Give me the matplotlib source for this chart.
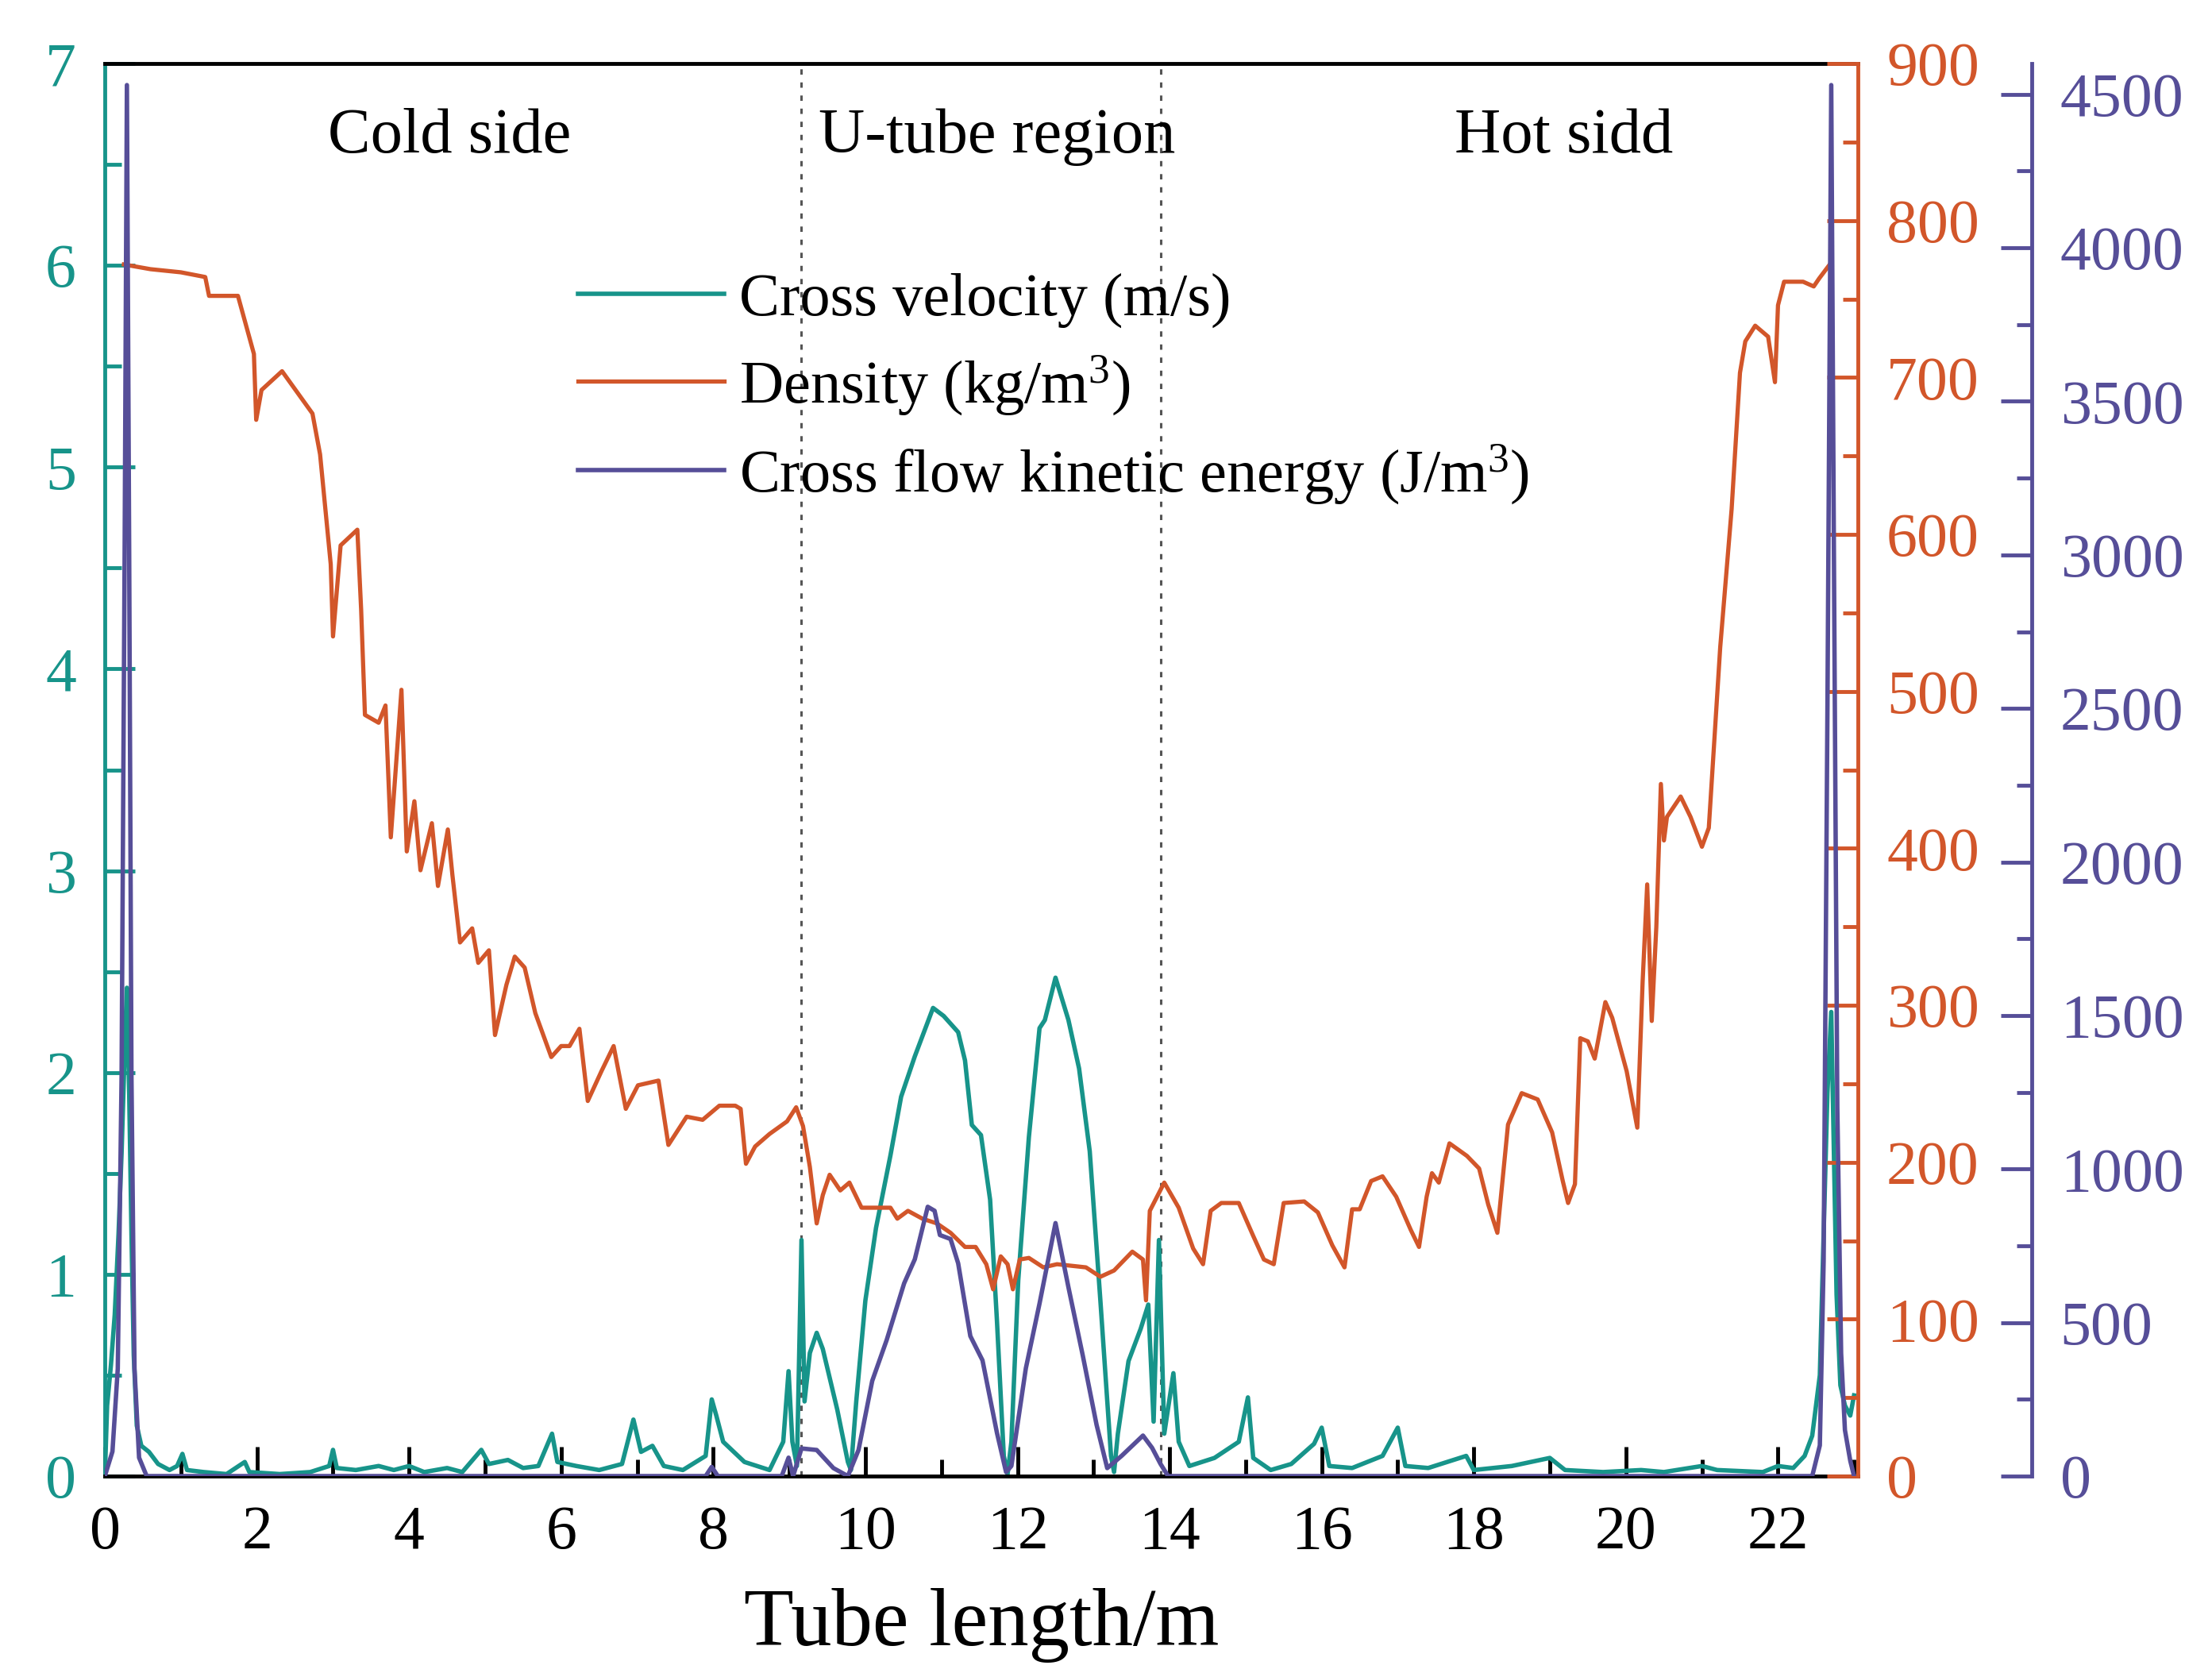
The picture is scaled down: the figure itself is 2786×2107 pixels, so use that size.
import matplotlib
matplotlib.use('Agg')
import matplotlib.pyplot as plt
from matplotlib.ticker import MultipleLocator

plt.rcParams['font.family'] = ['Liberation Serif', 'DejaVu Serif']
plt.rcParams['mathtext.fontset'] = 'custom'
plt.rcParams['mathtext.rm'] = 'Liberation Serif'
plt.rcParams['mathtext.it'] = 'Liberation Serif:italic'

# ---- data ----
vel_x = [0.0, 0.03, 0.08, 0.13, 0.18, 0.22, 0.26, 0.29, 0.32, 0.35, 0.38, 0.42, 0.48, 0.58, 0.7,
         0.85, 0.95, 1.02, 1.08, 1.3, 1.6, 1.84, 1.9, 2.3, 2.7, 2.95, 3.0, 3.05, 3.3, 3.6, 3.8,
         4.0, 4.2, 4.5, 4.7, 4.95, 5.05, 5.3, 5.5, 5.7, 5.88, 5.95, 6.2, 6.5, 6.8, 6.95, 7.05,
         7.2, 7.35, 7.6, 7.9, 7.98, 8.04, 8.13, 8.41, 8.74, 8.92, 8.99, 9.04, 9.1, 9.16, 9.2,
         9.27, 9.36, 9.44, 9.63, 9.77, 9.81, 9.88, 10.0, 10.14, 10.33, 10.47, 10.65, 10.89,
         11.03, 11.22, 11.31, 11.4, 11.52, 11.64, 11.73, 11.82, 11.87, 11.92, 12.01, 12.15,
         12.29, 12.36, 12.5, 12.67, 12.81, 12.95, 13.09, 13.23, 13.27, 13.32, 13.46, 13.62,
         13.72, 13.79, 13.86, 13.93, 14.05, 14.12, 14.26, 14.59, 14.91, 15.03, 15.1, 15.33,
         15.6, 15.9, 16.0, 16.1, 16.4, 16.8, 17.0, 17.1, 17.4, 17.9, 18.0, 18.5, 19.0, 19.2,
         19.7, 20.2, 20.5, 21.0, 21.2, 21.8, 22.0, 22.2, 22.35, 22.45, 22.55, 22.6, 22.65,
         22.7, 22.73, 22.77, 22.82, 22.88, 22.95, 23.0]
vel_y = [0.0, 0.35, 0.55, 0.8, 1.2, 1.6, 2.1, 2.42, 1.9, 1.2, 0.6, 0.25, 0.15, 0.12, 0.06,
         0.03, 0.05, 0.11, 0.03, 0.02, 0.01, 0.07, 0.02, 0.01, 0.02, 0.05, 0.13, 0.04, 0.03,
         0.05, 0.03, 0.05, 0.02, 0.04, 0.02, 0.13, 0.06, 0.08, 0.04, 0.05, 0.21, 0.07, 0.05,
         0.03, 0.06, 0.28, 0.12, 0.15, 0.05, 0.03, 0.1, 0.38, 0.3, 0.17, 0.07, 0.03, 0.17,
         0.52, 0.17, 0.05, 1.17, 0.37, 0.61, 0.71, 0.63, 0.33, 0.07, 0.03, 0.37, 0.87, 1.23,
         1.59, 1.88, 2.08, 2.32, 2.28, 2.2, 2.06, 1.74, 1.69, 1.37, 0.77, 0.1, 0.01, 0.17,
         0.97, 1.68, 2.22, 2.26, 2.47, 2.26, 2.02, 1.61, 0.87, 0.1, 0.02, 0.21, 0.57, 0.73,
         0.85, 0.27, 1.17, 0.21, 0.51, 0.17, 0.05, 0.09, 0.17, 0.39, 0.09, 0.03, 0.06, 0.16,
         0.24, 0.05, 0.04, 0.1, 0.24, 0.05, 0.04, 0.1, 0.03, 0.05, 0.09, 0.03, 0.02, 0.03,
         0.02, 0.05, 0.03, 0.02, 0.05, 0.04, 0.1, 0.2, 0.5, 1.2, 1.9, 2.3, 1.7, 0.9, 0.45,
         0.35, 0.3, 0.4]

dens_x = [0.25, 0.6, 1.0, 1.32, 1.37, 1.75, 1.96, 1.99, 2.06, 2.33, 2.73, 2.83, 2.97, 3.0, 3.1,
          3.32, 3.37, 3.42, 3.6, 3.69, 3.76, 3.9, 3.97, 4.07, 4.15, 4.3, 4.38, 4.51, 4.57,
          4.67, 4.83, 4.91, 5.05, 5.13, 5.28, 5.39, 5.52, 5.66, 5.87, 6.0, 6.11, 6.24, 6.35,
          6.53, 6.69, 6.85, 7.01, 7.28, 7.41, 7.65, 7.86, 8.08, 8.29, 8.36, 8.43, 8.55, 8.74,
          8.97, 9.09, 9.18, 9.27, 9.36, 9.44, 9.53, 9.67, 9.79, 9.95, 10.14, 10.33, 10.42,
          10.56, 10.75, 10.94, 11.12, 11.31, 11.45, 11.59, 11.68, 11.78, 11.87, 11.94, 12.03,
          12.15, 12.34, 12.52, 12.71, 12.9, 13.09, 13.27, 13.51, 13.65, 13.69, 13.74, 13.93,
          14.12, 14.31, 14.44, 14.54, 14.68, 14.91, 15.1, 15.24, 15.37, 15.5, 15.77, 15.95,
          16.14, 16.3, 16.4, 16.5, 16.65, 16.8, 16.98, 17.17, 17.28, 17.38, 17.45, 17.54,
          17.68, 17.91, 18.07, 18.19, 18.31, 18.45, 18.63, 18.84, 19.03, 19.17, 19.24, 19.33,
          19.4, 19.5, 19.59, 19.73, 19.82, 20.01, 20.15, 20.22, 20.28, 20.34, 20.4, 20.46,
          20.5, 20.54, 20.72, 20.85, 21.0, 21.09, 21.24, 21.39, 21.5, 21.57, 21.7, 21.87,
          21.96, 22.0, 22.08, 22.33, 22.47, 22.54, 22.68]
dens_y = [772, 769, 767, 764, 752, 752, 715, 673, 692, 704, 677, 651, 581, 535, 593, 603, 552,
          485, 480, 491, 407, 501, 398, 430, 386, 416, 376, 412, 383, 340, 349, 327, 335, 281,
          313, 331, 324, 295, 267, 274, 274, 285, 239, 258, 274, 234, 249, 252, 211, 229, 227,
          236, 236, 234, 199, 210, 218, 226, 235, 223, 197, 161, 179, 192, 182, 187, 171, 171,
          171, 164, 169, 164, 161, 155, 146, 146, 135, 119, 140, 135, 119, 138, 139, 133, 135,
          134, 133, 127, 131, 143, 138, 112, 169, 187, 171, 145, 135, 169, 174, 174, 153, 138,
          135, 174, 175, 168, 147, 133, 170, 170, 188, 191, 178, 157, 146, 178, 193, 187, 212,
          204, 196, 173, 155, 224, 244, 240, 219, 188, 174, 186, 279, 277, 266, 302, 292, 258,
          222, 315, 377, 290, 350, 441, 405, 420, 433, 420, 401, 413, 528, 616, 703, 723, 733,
          726, 697, 746, 761, 761, 758, 763, 772]

ke_x = [0.0, 0.1, 0.17, 0.22, 0.26, 0.29, 0.32, 0.35, 0.39, 0.45, 0.55, 7.9, 7.98, 8.06, 8.9,
        8.99, 9.05, 9.16, 9.36, 9.58, 9.77, 9.91, 10.09, 10.28, 10.51, 10.65, 10.82, 10.91,
        10.98, 11.12, 11.22, 11.38, 11.54, 11.73, 11.85, 11.92, 12.11, 12.29, 12.5, 12.67,
        12.86, 13.04, 13.18, 13.37, 13.65, 13.77, 13.88, 13.98, 22.45, 22.55, 22.6, 22.65,
        22.7, 22.74, 22.78, 22.83, 22.88, 22.95, 23.0]
ke_y = [0, 80, 350, 1300, 3000, 4530, 3000, 1300, 350, 60, 0, 0, 30, 0, 0, 60, 0, 90, 85, 26,
        0, 85, 310, 443, 628, 706, 877, 864, 785, 772, 693, 456, 377, 141, 13, 33, 351, 562,
        824, 615, 391, 167, 26, 66, 132, 92, 40, 0, 0, 100, 700, 2500, 4530, 2800, 1200, 400,
        150, 50, 0]

region_x = [9.15, 13.88]
region_names = ['Cold side', 'U-tube region', 'Hot sidd']
region_name_x = [4.53, 11.73, 19.18]

teal = '#17948a'
orange = '#d2562a'
purple = '#564e98'

fig = plt.figure(figsize=(27.86, 21.07), dpi=100)
ax = fig.add_axes([0.0474, 0.1177, 0.7925, 0.8443])
ax2 = ax.twinx()
ax3 = ax.twinx()
ax3.spines['right'].set_position(('axes', 1.099))

for x in region_x:
    ax.axvline(x, color='#555555', lw=2.2, ls=(0, (2.2, 3.2)), zorder=0)

l1, = ax.plot(vel_x, vel_y, color=teal, lw=4.0, label='Cross velocity (m/s)')
l2, = ax2.plot(dens_x, dens_y, color=orange, lw=3.8, label='Density (kg/m$^3$)')
l3, = ax3.plot(ke_x, ke_y, color=purple, lw=4.0, label='Cross flow kinetic energy (J/m$^3$)')

ax.set_xlim(0, 23.05)
ax.set_ylim(0, 7)
ax2.set_ylim(0, 900)
ax3.set_ylim(0, 4600)

ax.xaxis.set_major_locator(MultipleLocator(2))
ax.xaxis.set_minor_locator(MultipleLocator(1))
ax.yaxis.set_major_locator(MultipleLocator(1))
ax.yaxis.set_minor_locator(MultipleLocator(0.5))
ax2.yaxis.set_major_locator(MultipleLocator(100))
ax2.yaxis.set_minor_locator(MultipleLocator(50))
ax3.yaxis.set_major_locator(MultipleLocator(500))
ax3.yaxis.set_minor_locator(MultipleLocator(250))

fs = 56
ax.tick_params(axis='x', which='both', direction='in', top=False, labelsize=fs, pad=26,
               width=3.5, color='black')
ax.tick_params(axis='x', which='major', length=27)
ax.tick_params(axis='x', which='minor', length=15)
ax.tick_params(axis='y', which='both', direction='in', colors=teal, labelsize=fs, pad=26,
               width=3.5, right=False)
ax.tick_params(axis='y', which='major', length=27)
ax.tick_params(axis='y', which='minor', length=15)
for a, c in [(ax2, orange), (ax3, purple)]:
    a.tick_params(axis='y', which='both', direction='in', colors=c, labelsize=fs, pad=26,
                  width=3.5)
    a.tick_params(axis='y', which='major', length=28)
    a.tick_params(axis='y', which='minor', length=14)

ax.spines['left'].set_color(teal)
ax.spines['right'].set_visible(False)
for s in ['left', 'top', 'bottom']:
    ax2.spines[s].set_visible(False)
    ax3.spines[s].set_visible(False)
ax2.spines['right'].set_color(orange)
ax3.spines['right'].set_color(purple)
for a in [ax, ax2, ax3]:
    for s in a.spines.values():
        s.set_linewidth(3.5)

for name, x in zip(region_names, region_name_x):
    ax.text(x, 0.948, name, transform=ax.get_xaxis_transform(), ha='center', va='center',
            fontsize=58)

ax.set_xlabel('Tube length/m', fontsize=74, labelpad=24)

ax3.legend(handles=[l1, l2, l3], loc='upper left', bbox_to_anchor=(0.27, 0.852),
           frameon=False, fontsize=55, handlelength=2.4, handletextpad=0.25,
           labelspacing=0.42, borderpad=0, borderaxespad=0)

fig.savefig('out.png', dpi=100)
